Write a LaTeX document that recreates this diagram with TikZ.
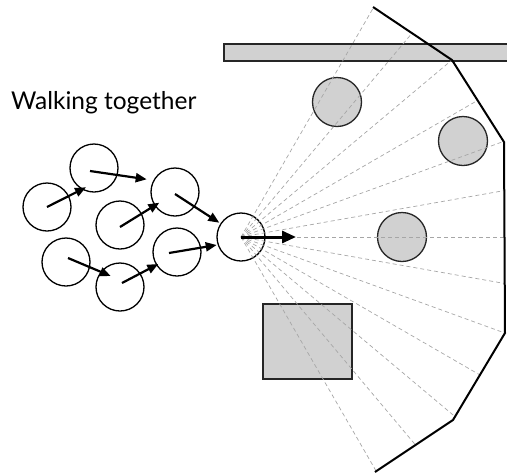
\documentclass[tikz,border=0pt]{standalone}
\usepackage{fontspec}
\setmainfont{Lato}
\usetikzlibrary{arrows.meta,intersections}
\begin{document}
\begin{tikzpicture}[x=1pt,y=-1pt,
  person/.style={circle,draw=black,line width=1.3pt,minimum size=48pt,inner sep=0pt},
  obstacle/.style={draw=black!85,line width=1.3pt,fill=black!18},
  walk/.style={line width=2.2pt,-{Triangle[length=11pt,width=9pt]}},
  lead/.style={line width=3pt,-{Triangle[length=14pt,width=12pt]}},
  ray/.style={draw=black!35,line width=0.7pt,dash pattern=on 4pt off 3pt},
  wallline/.style={line width=2pt,line join=miter}]
\useasboundingbox (0,0) rectangle (507,475);

% obstacles
\draw[obstacle] (224,44) rectangle (512,61);
\node[obstacle,circle,minimum size=49pt,inner sep=0pt] (o1) at (337,102) {};
\node[obstacle,circle,minimum size=49pt,inner sep=0pt] (o2) at (463,141) {};
\node[obstacle,circle,minimum size=49pt,inner sep=0pt] (o3) at (402,237) {};
\node[obstacle,minimum width=89pt,minimum height=75pt,inner sep=0pt] (box) at (307.5,341.5) {};

% leader and the boundary of its field of view
\node[person] (c8) at (241,237) {};
\coordinate (w1) at (373,7);
\coordinate (w2) at (452,60);
\coordinate (w3) at (504,142);
\coordinate (w4) at (505,333);
\coordinate (w5) at (453,420);
\coordinate (w6) at (375,472);
\path[name path=wallpath] (358,-3) -- (w1) -- (w2) -- (w3) -- (w4) -- (w5) -- (w6) -- (360,482);

% view rays
\foreach \a in {-60,-50,...,60} {
  \path[name path=viewray] (c8.center) -- ++(\a:420);
  \draw[ray,name intersections={of=viewray and wallpath,by=e}] (c8.center) -- (e);
}

\draw[wallline] (w1) -- (w2) -- (w3) -- (w4) -- (w5) -- (w6);

% group of pedestrians
\node[person] (c1) at (47,207) {};
\node[person] (c2) at (94,168) {};
\node[person] (c3) at (120,225) {};
\node[person] (c4) at (175,192) {};
\node[person] (c5) at (66,262) {};
\node[person] (c6) at (120,287) {};
\node[person] (c7) at (177,252) {};

\coordinate (t1) at (86,187.3);
\coordinate (t2) at (146.7,179.3);
\coordinate (t3) at (159.3,202.7);
\coordinate (t4) at (219.3,222.7);
\coordinate (t5) at (110.7,276);
\coordinate (t6) at (158.3,264);
\coordinate (t7) at (216.7,245);
\coordinate (t8) at (296,237);

\draw[walk] (c1.center) -- (t1);
\draw[walk] ([shift={(-4,3)}]c2.center) -- (t2);
\draw[walk] ([shift={(0,2)}]c3.center) -- (t3);
\draw[walk] ([shift={(0,2)}]c4.center) -- (t4);
\draw[walk] ([shift={(2,-4)}]c5.center) -- (t5);
\draw[walk] ([shift={(2,-4)}]c6.center) -- (t6);
\draw[walk] ([shift={(-8,1)}]c7.center) -- (t7);
\draw[lead] (c8.center) -- (t8);

\node[anchor=base west,inner sep=0pt,font=\fontsize{24.5}{28}\selectfont] (label) at (11,109) {Walking together};
\end{tikzpicture}
\end{document}
